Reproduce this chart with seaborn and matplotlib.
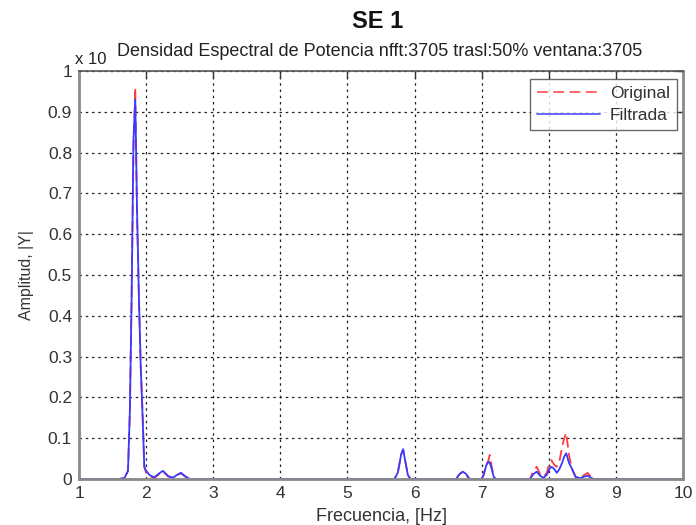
import numpy as np
import pandas as pd
import matplotlib
matplotlib.use("Agg")
import matplotlib.pyplot as plt
from matplotlib.lines import Line2D
import seaborn as sns

# Spectrum samples: frequency [Hz], original and filtered amplitude
freq = [1.00, 1.60, 1.68, 1.73, 1.757, 1.784, 1.811, 1.838, 1.865, 1.892, 1.919,
        1.946, 1.973, 2.00, 2.05, 2.12, 2.18, 2.25, 2.33, 2.40, 2.46, 2.52,
        2.58, 2.65,
        5.70, 5.75, 5.80, 5.83, 5.86, 5.90, 5.94,
        6.62, 6.67, 6.72, 6.77, 6.82,
        7.00, 7.03, 7.07, 7.10, 7.12, 7.15, 7.18, 7.21,
        7.72, 7.77, 7.82, 7.87, 7.92, 7.97, 8.01, 8.04, 8.08, 8.12, 8.16,
        8.20, 8.23, 8.26, 8.30, 8.34, 8.40, 8.47, 8.53, 8.58, 8.63, 8.67,
        10.0]
original = [0, 0, 0.003, 0.02, 0.16, 0.45, 0.80, 0.96, 0.64, 0.45, 0.28,
            0.17, 0.03, 0.015, 0.008, 0.002, 0.010, 0.018, 0.006, 0.004, 0.010, 0.014,
            0.006, 0,
            0, 0.015, 0.060, 0.072, 0.045, 0.010, 0,
            0, 0.012, 0.018, 0.010, 0,
            0, 0.012, 0.035, 0.045, 0.059, 0.030, 0.005, 0,
            0, 0.020, 0.030, 0.012, 0.005, 0.015, 0.040, 0.046, 0.035, 0.030, 0.045,
            0.079, 0.100, 0.113, 0.060, 0.027, 0.005, 0.003, 0.010, 0.015, 0.005, 0,
            0]
filtrada = [0, 0, 0.003, 0.02, 0.16, 0.44, 0.83, 0.93, 0.66, 0.45, 0.28,
            0.16, 0.03, 0.020, 0.010, 0.004, 0.012, 0.020, 0.007, 0.003, 0.010, 0.015,
            0.007, 0,
            0, 0.015, 0.060, 0.073, 0.045, 0.010, 0,
            0, 0.012, 0.018, 0.012, 0,
            0, 0.010, 0.034, 0.042, 0.040, 0.025, 0.005, 0,
            0, 0.012, 0.018, 0.008, 0.003, 0.010, 0.025, 0.030, 0.025, 0.015, 0.025,
            0.040, 0.055, 0.063, 0.040, 0.027, 0.005, 0.002, 0.006, 0.008, 0.003, 0,
            0]

x_ticks = list(range(1, 11))
y_ticks = [0, 0.1, 0.2, 0.3, 0.4, 0.5, 0.6, 0.7, 0.8, 0.9, 1]
y_tick_labels = ["0", "0.1", "0.2", "0.3", "0.4", "0.5", "0.6", "0.7", "0.8", "0.9", "1"]

df = pd.DataFrame({
    "Frecuencia": freq * 2,
    "Amplitud": original + filtrada,
    "Serie": ["Original"] * len(freq) + ["Filtrada"] * len(freq),
})

sns.set_style("white")
plt.rcParams["font.family"] = ["Liberation Sans", "DejaVu Sans"]

fig = plt.figure(figsize=(6.96, 5.25), dpi=100)
ax = fig.add_axes([79 / 696, 1 - 479 / 525, 604 / 696, 408 / 525])

sns.lineplot(data=df, x="Frecuencia", y="Amplitud", hue="Serie", style="Serie",
             palette={"Original": "#ff3b3b", "Filtrada": "#3a3aff"},
             dashes={"Original": (6, 3), "Filtrada": ""},
             estimator=None, sort=False, linewidth=1.3, ax=ax, legend=False)

ax.set_xlim(1, 10)
ax.set_ylim(0, 1)
ax.set_xticks(x_ticks)
ax.set_xticklabels([str(t) for t in x_ticks])
ax.set_yticks(y_ticks)
ax.set_yticklabels(y_tick_labels)
ax.tick_params(direction="in", top=True, right=True, length=5, width=1,
               labelsize=12.5, colors="#333333", pad=5)
ax.grid(True, color="#222222", linestyle=(0, (2, 3)), linewidth=0.9)
for side in ["left", "bottom", "right"]:
    ax.spines[side].set_color("#8a8a8a")
    ax.spines[side].set_linewidth(2.0)
ax.spines["top"].set_color("#555555")
ax.spines["top"].set_linewidth(1.2)

ax.set_xlabel("Frecuencia, [Hz]", fontsize=13, color="#333333", labelpad=5)
ax.set_ylabel("Amplitud, |Y|", fontsize=11.5, color="#333333", labelpad=10)

handles = [Line2D([], [], color="#ff5a5a", linestyle=(0, (6, 3)), linewidth=1.3),
           Line2D([], [], color="#5a5aff", linewidth=1.3)]
leg = ax.legend(handles, ["Original", "Filtrada"], loc="upper right",
                bbox_to_anchor=(0.99, 0.98), borderaxespad=0, fontsize=12.5,
                frameon=True, fancybox=False, edgecolor="#444444",
                handlelength=3.6, borderpad=0.4, labelspacing=0.4,
                handletextpad=0.6)
leg.get_frame().set_linewidth(1.0)
for t in leg.get_texts():
    t.set_color("#333333")

fig.text(378 / 696, 1 - 22 / 525, "SE 1", ha="center", va="center",
         fontsize=17, fontweight="bold", color="#111111")
fig.text(380 / 696, 1 - 52 / 525,
         "Densidad Espectral de Potencia nfft:3705 trasl:50% ventana:3705",
         ha="center", va="center", fontsize=13, color="#222222")
fig.text(75 / 696, 1 - 60 / 525, "x 10", ha="left", va="center",
         fontsize=12, color="#222222")

fig.savefig("out.png", dpi=100)
